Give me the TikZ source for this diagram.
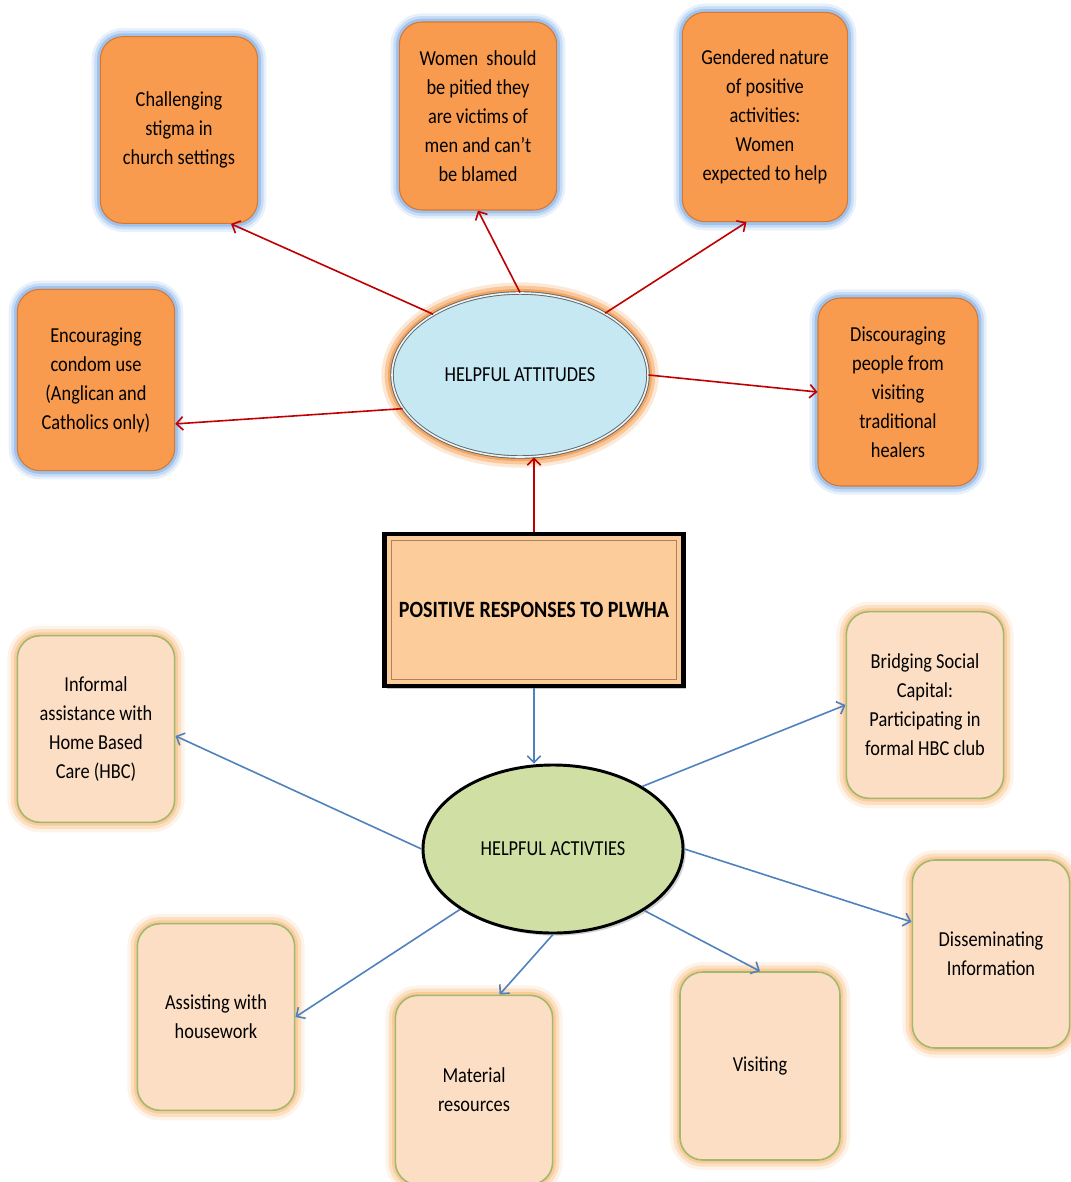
\documentclass[tikz,border=0pt]{standalone}
\usepackage{fontspec}
\setmainfont{Carlito}[FakeStretch=0.86]
\usetikzlibrary{shapes.geometric,arrows.meta,shadows}

\definecolor{attorange}{RGB}{249,155,78}
\definecolor{attedge}{RGB}{214,120,50}
\definecolor{glowblue}{RGB}{160,195,238}
\definecolor{actpeach}{RGB}{252,222,196}
\definecolor{actedge}{RGB}{160,185,110}
\definecolor{glowora}{RGB}{250,195,140}
\definecolor{ellglow}{RGB}{244,165,95}
\definecolor{ellblue}{RGB}{197,232,243}
\definecolor{ellgreen}{RGB}{208,224,164}
\definecolor{posfill}{RGB}{252,204,154}
\definecolor{posline}{RGB}{170,130,95}
\definecolor{redline}{RGB}{192,0,0}
\definecolor{blueline}{RGB}{79,129,189}

\begin{document}
\begin{tikzpicture}[x=0.75pt, y=-0.75pt,
  every node/.style={font=\fontsize{16}{21.75}\selectfont, align=center},
  attbox/.style={rectangle, rounded corners=17pt, minimum width=118pt, minimum height=140pt,
    fill=attorange, draw=attedge, line width=0.8pt,
    preaction={draw=glowblue, line width=13pt, draw opacity=0.25},
    preaction={draw=glowblue, line width=9pt, draw opacity=0.45},
    preaction={draw=glowblue, line width=5pt}},
  actbox/.style={rectangle, rounded corners=17pt, minimum width=118pt, minimum height=140pt,
    fill=actpeach, draw=actedge, line width=1.2pt,
    preaction={draw=glowora, line width=15pt, draw opacity=0.2},
    preaction={draw=glowora, line width=10pt, draw opacity=0.4},
    preaction={draw=glowora, line width=5pt, draw opacity=0.7}},
  redarrow/.style={draw=redline, line width=1.2pt, -{Straight Barb[length=5pt, width=10pt]}},
  bluearrow/.style={draw=blueline, line width=1.2pt, -{Straight Barb[length=5pt, width=10pt]}}
]
\useasboundingbox (0,0) rectangle (1071,1182);

% Centre box
\node[rectangle, minimum width=224pt, minimum height=114pt, fill=posfill, draw=black, line width=3.5pt,
  drop shadow={shadow xshift=2pt, shadow yshift=-2pt, fill=black!45}] (pos) at (534,610)
  {\fontsize{17.5}{21}\selectfont\bfseries POSITIVE RESPONSES TO PLWHA};
\draw[posline, line width=0.8pt] ([shift={(9,9)}]pos.north west) rectangle ([shift={(-9,-9)}]pos.south east);

% The two ellipses
\node[ellipse, minimum width=192pt, minimum height=123pt, fill=ellblue, draw=gray!80!black, line width=0.7pt,
  double=white!60!ellblue, double distance=1.2pt,
  preaction={draw=ellglow, line width=16pt, draw opacity=0.25},
  preaction={draw=ellglow, line width=11pt, draw opacity=0.5},
  preaction={draw=ellglow, line width=6pt}] (att) at (520,375)
  {HELPFUL ATTITUDES};
\node[ellipse, minimum width=195pt, minimum height=126pt, fill=ellgreen, draw=black, line width=2.2pt,
  drop shadow={shadow xshift=2pt, shadow yshift=-2pt, fill=black!35}] (act) at (553,849)
  {HELPFUL ACTIVTIES};

% Attitude boxes (orange)
\node[attbox] (chal) at (179,130) {Challenging\\stigma in\\church settings};
\node[attbox, minimum height=141pt] (women) at (478,116) {Women\ \ should\\be pitied they\\are victims of\\men and can’t\\be blamed};
\node[attbox, minimum width=124pt, minimum height=157pt] (gend) at (765,117) {Gendered nature\\of positive\\activities:\\Women\\expected to help};
\node[attbox, minimum height=136pt] (enc) at (96,380) {Encouraging\\condom use\\(Anglican and\\Catholics only)};
\node[attbox, minimum width=120pt, minimum height=141pt] (disc) at (898,392) {Discouraging\\people from\\visiting\\traditional\\healers};

% Activity boxes (peach)
\node[actbox] (inf) at (96,729) {Informal\\assistance with\\Home Based\\Care (HBC)};
\node[actbox] (brid) at (925,705) {Bridging Social\\Capital:\\Participating in\\formal HBC club};
\node[actbox] (ass) at (216,1017) {Assisting with\\housework};
\node[actbox, minimum height=142pt] (mat) at (474,1090) {Material\\resources};
\node[actbox, minimum width=120pt, minimum height=141pt] (vis) at (760,1066) {Visiting};
\node[actbox, minimum height=141pt] (diss) at (991,954) {Disseminating\\Information};

% Red connectors
\draw[redarrow] (pos.north) -- (pos.north |- att.south);
\draw[redarrow] (att.145) -- (chal.-61);
\draw[redarrow] (att.north) -- (women.south);
\draw[redarrow] (att.36) -- (gend.-100);
\draw[redarrow] (att.196) -- (enc.-29);
\draw[redarrow] (att.east) -- (disc.west);

% Blue connectors
\draw[bluearrow] (pos.south) -- (pos.south |- act.north);
\draw[bluearrow] (act.west) -- (inf.-5);
\draw[bluearrow] (act.35) -- (brid.west);
\draw[bluearrow] (act.east) -- (diss.158);
\draw[bluearrow] (act.213) -- (ass.east);
\draw[bluearrow] (act.south) -- (mat.75);
\draw[bluearrow] (act.326) -- (vis.north);
\end{tikzpicture}
\end{document}
